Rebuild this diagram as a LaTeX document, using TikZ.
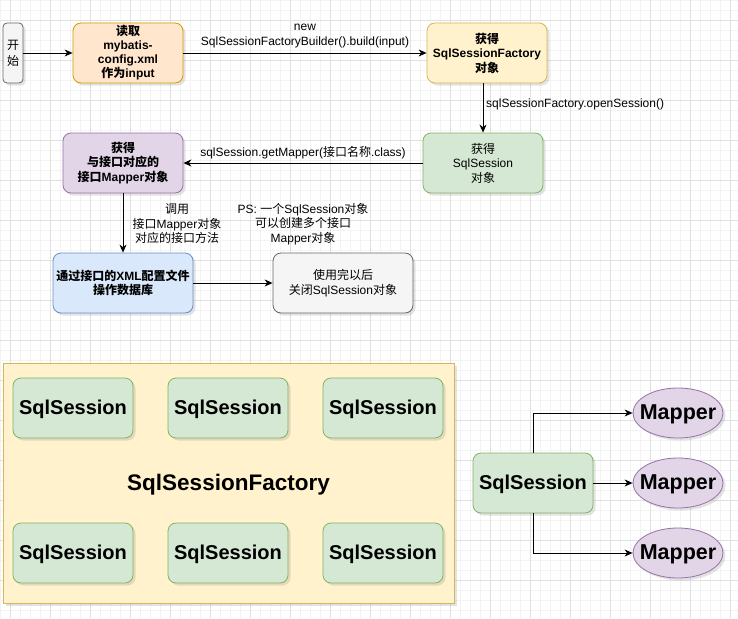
\documentclass[tikz,border=0pt]{standalone}
\usepackage{fontspec}
\setmainfont{Liberation Sans}
\newfontfamily\cjk{Noto Sans CJK SC}
\usetikzlibrary{shadows,arrows.meta,shapes.geometric}
\newcommand\zh[1]{{\cjk #1}}
\definecolor{grayF}{HTML}{F5F5F5}\definecolor{grayD}{HTML}{666666}
\definecolor{orangeF}{HTML}{FFE6CC}\definecolor{orangeD}{HTML}{D79B00}
\definecolor{yellowF}{HTML}{FFF2CC}\definecolor{yellowD}{HTML}{D6B656}
\definecolor{greenF}{HTML}{D5E8D4}\definecolor{greenD}{HTML}{82B366}
\definecolor{purpleF}{HTML}{E1D5E7}\definecolor{purpleD}{HTML}{9673A6}
\definecolor{blueF}{HTML}{DAE8FC}\definecolor{blueD}{HTML}{6C8EBF}
\definecolor{gridminor}{HTML}{F3F3F3}\definecolor{gridmajor}{HTML}{E0E0E0}
\tikzset{
  shad/.style={drop shadow={opacity=0.22, shadow xshift=2.5pt, shadow yshift=-2.5pt}},
  box/.style={draw, rounded corners=8pt, line width=0.8pt, align=center, inner sep=1pt,
    font=\fontsize{12}{14.5}\selectfont, minimum width=120pt, minimum height=60pt, shad},
  bigtxt/.style={font=\fontsize{20}{24}\selectfont\bfseries, text depth=1pt},
  lbl/.style={align=center, inner sep=0pt, font=\fontsize{12}{14.5}\selectfont},
  arr/.style={-{Stealth[length=8pt,width=7pt,inset=2.5pt]}, line width=0.9pt, black},
  gray box/.style={box, fill=grayF, draw=grayD},
  orange box/.style={box, fill=orangeF, draw=orangeD},
  yellow box/.style={box, fill=yellowF, draw=yellowD},
  green box/.style={box, fill=greenF, draw=greenD},
  purple box/.style={box, fill=purpleF, draw=purpleD},
  blue box/.style={box, fill=blueF, draw=blueD},
  mapper/.style={ellipse, draw=purpleD, fill=purpleF, line width=0.8pt, minimum width=90pt,
    minimum height=50pt, inner sep=0pt, shad,
    label={[font=\fontsize{21.5}{25}\selectfont\bfseries, text depth=1pt, inner sep=0pt]center:Mapper}},
}
\begin{document}
\begin{tikzpicture}[x=1pt,y=-1pt]
\useasboundingbox (0,0) rectangle (738,618);
\fill[white] (0,0) rectangle (738,618);
% grid
\foreach \x in {0,10,...,730} \draw[gridminor, line width=0.6pt] (\x,0) -- (\x,618);
\foreach \y in {0,10,...,610} \draw[gridminor, line width=0.6pt] (0,\y) -- (738,\y);
\foreach \x in {10,50,...,730} \draw[gridmajor, line width=0.8pt] (\x,0) -- (\x,618);
\foreach \y in {20,60,...,600} \draw[gridmajor, line width=0.8pt] (0,\y) -- (738,\y);

% top flow
\node[gray box, minimum width=20pt, rounded corners=4pt, font=\fontsize{12}{16}\selectfont] (start) at (13,53) {\zh{开}\\\zh{始}};
\node[orange box, minimum width=110pt, font=\fontsize{12}{14}\selectfont\bfseries] (read) at (128,53) {\zh{读取}\\mybatis-\\config.xml\\\zh{作为}input};
\node[yellow box, font=\fontsize{12}{14.5}\selectfont\bfseries] (fac) at (487,53) {\zh{获得}\\SqlSessionFactory\\\zh{对象}};
\node[green box] (sess) at (483,163) {\zh{获得}\\SqlSession\\\zh{对象}};
\node[purple box, font=\fontsize{12}{14.5}\selectfont\bfseries] (map) at (123,163) {\zh{获得}\\\zh{与接口对应的}\\\zh{接口}Mapper\zh{对象}};
\node[blue box, minimum width=140pt, font=\fontsize{12}{14.5}\selectfont\bfseries] (db) at (123,283) {\zh{通过接口的}XML\zh{配置文件}\\\zh{操作数据库}};
\node[gray box, minimum width=140pt] (close) at (343,283) {\zh{使用完以后}\\\zh{关闭}SqlSession\zh{对象}};

\draw[arr] (start) -- (read);
\draw[arr] (read) -- (read -| fac.west);
\draw[arr] (fac.south -| sess) -- (sess.north);
\draw[arr] (sess) -- (map);
\draw[arr] (map) -- (db);
\draw[arr] (db) -- (close);

\node[lbl] (lnew) at (305,36) {new\\SqlSessionFactoryBuilder().build(input)};
\node[lbl, anchor=west] (lopen) at (486,104) {sqlSessionFactory.openSession()};
\node[lbl] (lget) at (303,153) {sqlSession.getMapper(\zh{接口名称}.class)};
\node[lbl] (lcall) at (177,224) {\zh{调用}\\\zh{接口}Mapper\zh{对象}\\\zh{对应的接口方法}};
\node[lbl] (lps) at (303,224) {PS: \zh{一个}SqlSession\zh{对象}\\\zh{可以创建多个接口}\\Mapper\zh{对象}};

% bottom left
\node[draw=yellowD, fill=yellowF, line width=0.8pt, minimum width=451pt, minimum height=240pt, inner sep=0pt, shad,
  font=\fontsize{22.5}{26}\selectfont\bfseries, text depth=1pt] (factory) at (228.5,483) {SqlSessionFactory};
\foreach \i/\x in {1/73,2/228,3/383}{
  \node[green box, bigtxt] (t\i) at (\x,408) {SqlSession};
  \node[green box, bigtxt] (b\i) at (\x,553) {SqlSession};
}

% bottom right
\node[green box, bigtxt] (ss) at (533,483) {SqlSession};
\node[mapper] (m1) at (678,413) {};
\node[mapper] (m2) at (678,483) {};
\node[mapper] (m3) at (678,553) {};
\draw[arr] (ss.north) |- (m1.west);
\draw[arr] (ss) -- (m2);
\draw[arr] (ss.south) |- (m3.west);
\end{tikzpicture}
\end{document}
